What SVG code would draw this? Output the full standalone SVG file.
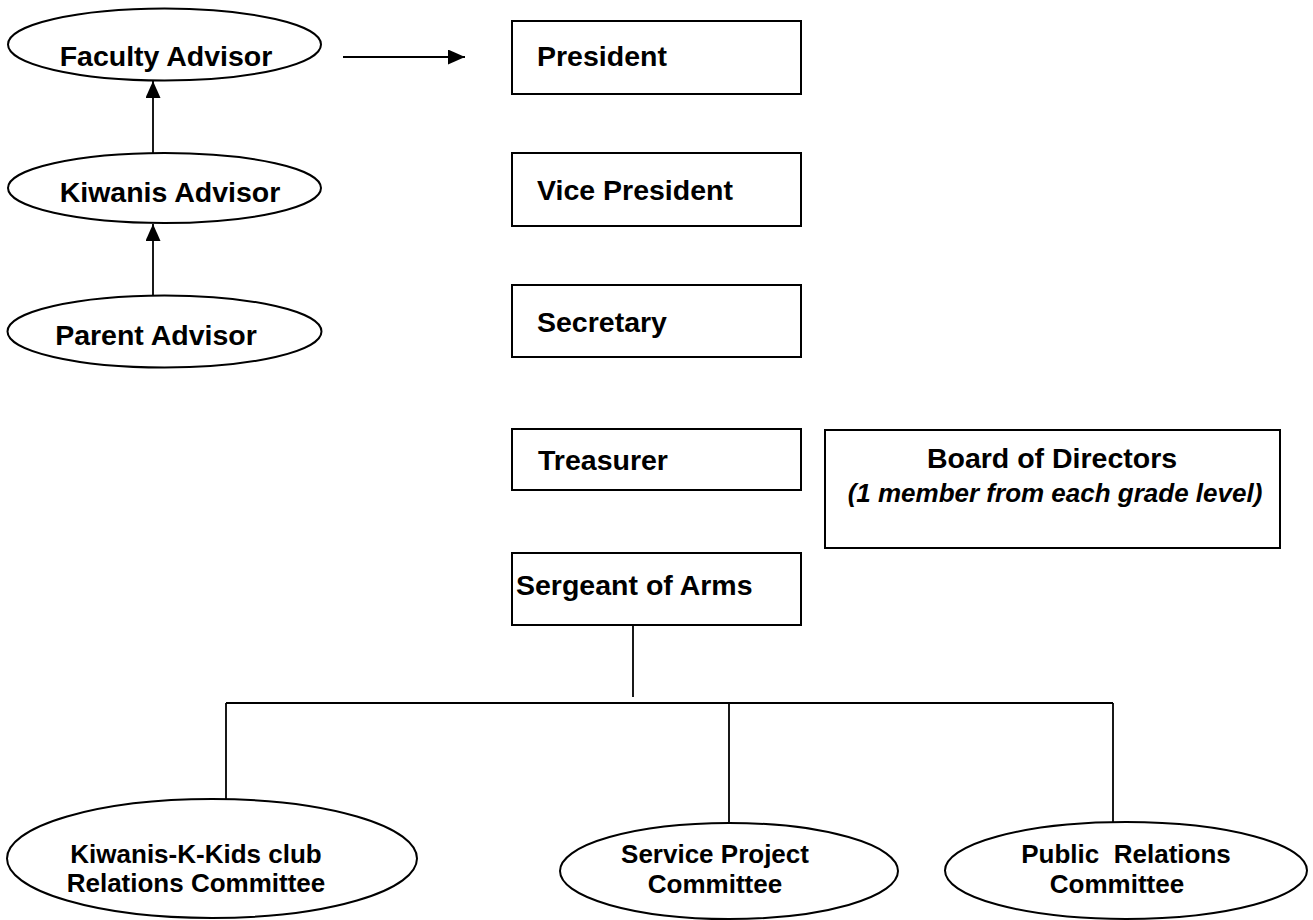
<svg xmlns="http://www.w3.org/2000/svg" width="1313" height="920" viewBox="0 0 1313 920">
<style>
  .shape { fill: #ffffff; stroke: #000000; stroke-width: 2; }
  .conn { fill: none; stroke: #000000; stroke-width: 1.8; }
  .t { font-family: "Liberation Sans", Arial, sans-serif; font-weight: bold; fill: #000000; }
  .big { font-size: 28.5px; }
  .mid { font-size: 26px; }
  .it { font-style: italic; font-size: 26px; }
  .pre { white-space: pre; }
</style>
<defs>
  <marker id="arrow" viewBox="0 0 17 15" refX="17" refY="7.5" markerWidth="17" markerHeight="15" markerUnits="userSpaceOnUse" orient="auto">
    <path d="M0,0 L17,7.5 L0,15 Z" fill="#000000"/>
  </marker>
</defs>
<rect width="1313" height="920" fill="#ffffff"/>

<g id="connectors">
  <line class="conn" x1="153" y1="153" x2="153" y2="81" marker-end="url(#arrow)"/>
  <line class="conn" x1="153" y1="296" x2="153" y2="224" marker-end="url(#arrow)"/>
  <line class="conn" x1="343" y1="57" x2="465" y2="57" marker-end="url(#arrow)"/>
  <line class="conn" x1="633" y1="625" x2="633" y2="697"/>
  <line class="conn" x1="226" y1="703" x2="1113" y2="703"/>
  <line class="conn" x1="226" y1="703" x2="226" y2="799"/>
  <line class="conn" x1="729" y1="703" x2="729" y2="823"/>
  <line class="conn" x1="1113" y1="703" x2="1113" y2="822"/>
</g>

<g id="faculty-advisor">
  <ellipse class="shape" cx="164.5" cy="44.5" rx="156.5" ry="36"/>
  <text class="t big" x="166" y="66" text-anchor="middle">Faculty Advisor</text>
</g>
<g id="kiwanis-advisor">
  <ellipse class="shape" cx="164.5" cy="188" rx="156.5" ry="35"/>
  <text class="t big" x="170" y="202" text-anchor="middle">Kiwanis Advisor</text>
</g>
<g id="parent-advisor">
  <ellipse class="shape" cx="164.5" cy="331.5" rx="157" ry="36"/>
  <text class="t big" x="156" y="345" text-anchor="middle">Parent Advisor</text>
</g>

<g id="president">
  <rect class="shape" x="512" y="21" width="289" height="73"/>
  <text class="t big" x="537" y="66">President</text>
</g>
<g id="vice-president">
  <rect class="shape" x="512" y="153" width="289" height="73"/>
  <text class="t big" x="537" y="200">Vice President</text>
</g>
<g id="secretary">
  <rect class="shape" x="512" y="285" width="289" height="72"/>
  <text class="t big" x="537" y="332">Secretary</text>
</g>
<g id="treasurer">
  <rect class="shape" x="512" y="429" width="289" height="61"/>
  <text class="t big" x="538" y="470">Treasurer</text>
</g>
<g id="board-of-directors">
  <rect class="shape" x="825" y="430" width="455" height="118"/>
  <text class="t big" x="1052" y="468" text-anchor="middle">Board of Directors</text>
  <text class="t it" x="1055" y="502" text-anchor="middle">(1 member from each grade level)</text>
</g>
<g id="sergeant-of-arms">
  <rect class="shape" x="512" y="553" width="289" height="72"/>
  <text class="t big" x="516" y="595">Sergeant of Arms</text>
</g>

<g id="kiwanis-k-kids">
  <ellipse class="shape" cx="212" cy="858.5" rx="205" ry="59.5"/>
  <text class="t mid" x="196" y="863" text-anchor="middle">Kiwanis-K-Kids club</text>
  <text class="t mid" x="196" y="892" text-anchor="middle">Relations Committee</text>
</g>
<g id="service-project">
  <ellipse class="shape" cx="729" cy="871" rx="169" ry="48"/>
  <text class="t mid" x="715" y="863" text-anchor="middle">Service Project</text>
  <text class="t mid" x="715" y="893" text-anchor="middle">Committee</text>
</g>
<g id="public-relations">
  <ellipse class="shape" cx="1126" cy="870.5" rx="181" ry="48.5"/>
  <text class="t mid pre" x="1126" y="863" text-anchor="middle">Public  Relations</text>
  <text class="t mid" x="1117" y="893" text-anchor="middle">Committee</text>
</g>
</svg>
